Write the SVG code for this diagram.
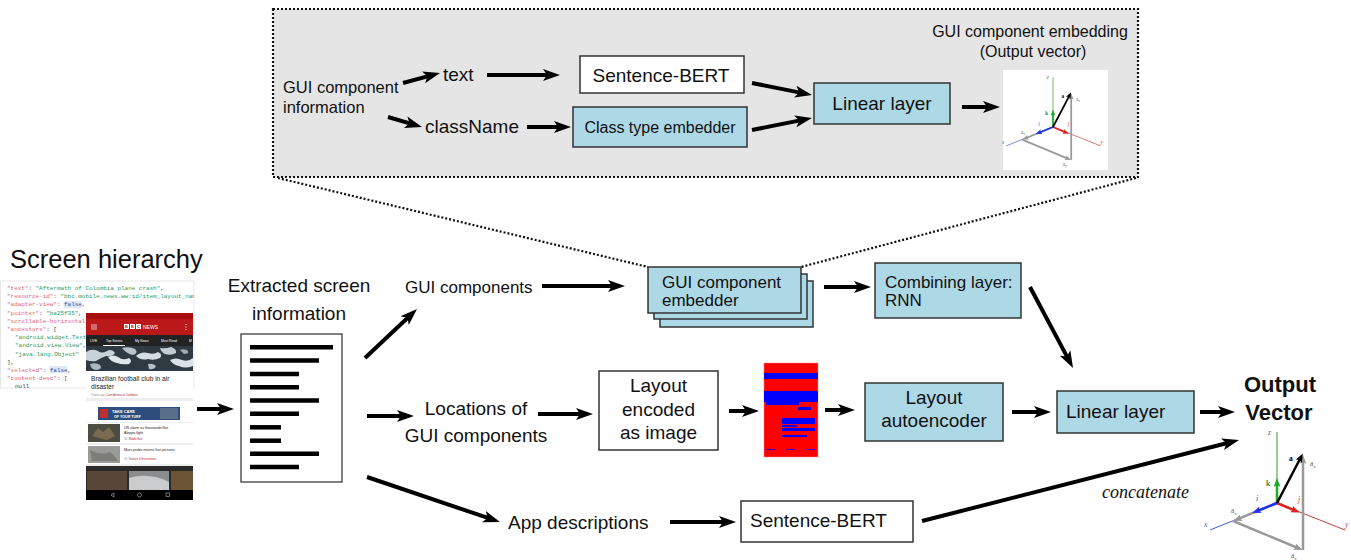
<svg xmlns="http://www.w3.org/2000/svg" xmlns:xlink="http://www.w3.org/1999/xlink" width="1351" height="560" viewBox="0 0 1351 560">
<style>
.t{font-family:"Liberation Sans",Arial,sans-serif;fill:#111}
.box{stroke:#333;stroke-width:1.5}
.blue{fill:#add8e6}
.white{fill:#fff}
.arr{stroke:#000;stroke-width:4;fill:none;marker-end:url(#ah)}
.dot{stroke:#111;stroke-width:2.2;stroke-dasharray:2 2;fill:none}
.code{font-family:"Liberation Mono","DejaVu Sans Mono",monospace;font-size:5.95px;fill:#444}
.k{fill:#e0607a}
.s{fill:#2a9a62}
.b{fill:#3050b0}
.ph{font-family:"Liberation Sans",Arial,sans-serif}
.vl{font-family:"Liberation Serif","Times New Roman",serif;font-size:7.5px;fill:#666}
</style>
<defs>
<marker id="ah" markerUnits="userSpaceOnUse" markerWidth="18" markerHeight="14" viewBox="0 0 18 14" refX="5" refY="7" orient="auto"><path d="M0,1 L17,7 L0,13 L4,7 z" fill="#000"/></marker>
<marker id="mg" markerUnits="userSpaceOnUse" markerWidth="9" markerHeight="7" viewBox="0 0 9 7" refX="5" refY="3.5" orient="auto"><path d="M0,0 L9,3.5 L0,7 L2,3.5 z" fill="#22aa22"/></marker>
<marker id="mr" markerUnits="userSpaceOnUse" markerWidth="9" markerHeight="7" viewBox="0 0 9 7" refX="5" refY="3.5" orient="auto"><path d="M0,0 L9,3.5 L0,7 L2,3.5 z" fill="#e02020"/></marker>
<marker id="mb" markerUnits="userSpaceOnUse" markerWidth="9" markerHeight="7" viewBox="0 0 9 7" refX="5" refY="3.5" orient="auto"><path d="M0,0 L9,3.5 L0,7 L2,3.5 z" fill="#2030f0"/></marker>
<marker id="my" markerUnits="userSpaceOnUse" markerWidth="9" markerHeight="7" viewBox="0 0 9 7" refX="5" refY="3.5" orient="auto"><path d="M0,0 L9,3.5 L0,7 L2,3.5 z" fill="#999"/></marker>
<marker id="mk" markerUnits="userSpaceOnUse" markerWidth="9" markerHeight="7" viewBox="0 0 9 7" refX="5" refY="3.5" orient="auto"><path d="M0,0 L9,3.5 L0,7 L2,3.5 z" fill="#000"/></marker>
<clipPath id="jsonclip"><rect x="0" y="281" width="194" height="107"/></clipPath>
<clipPath id="heroclip"><rect x="86" y="346" width="107" height="25"/></clipPath>
<g id="axes">
  <line x1="0" y1="0" x2="0" y2="-71" stroke="#33a033" stroke-width="1"/>
  <line x1="0" y1="0" x2="68" y2="27" stroke="#c04040" stroke-width="1"/>
  <line x1="0" y1="0" x2="-67" y2="27" stroke="#4a5ad0" stroke-width="1"/>
  <line x1="0" y1="0" x2="-40" y2="16.4" stroke="#999" stroke-width="2.5" marker-end="url(#my)"/>
  <line x1="-44" y1="18" x2="22" y2="45.5" stroke="#999" stroke-width="2.5" marker-end="url(#my)"/>
  <line x1="26" y1="47" x2="26" y2="-44" stroke="#999" stroke-width="2.5" marker-end="url(#my)"/>
  <line x1="0" y1="0" x2="0" y2="-21" stroke="#22aa22" stroke-width="2.5" marker-end="url(#mg)"/>
  <line x1="0" y1="0" x2="19" y2="8" stroke="#e02020" stroke-width="2.5" marker-end="url(#mr)"/>
  <line x1="0" y1="0" x2="-21" y2="8.5" stroke="#2030f0" stroke-width="2.5" marker-end="url(#mb)"/>
  <line x1="0" y1="0" x2="24" y2="-46" stroke="#000" stroke-width="2.5" marker-end="url(#mk)"/>
  <text class="vl" x="-9" y="-68" font-style="italic">z</text>
  <text class="vl" x="-11" y="-17" font-weight="bold" style="fill:#338833">k</text>
  <text class="vl" x="12" y="-42" font-weight="bold" style="fill:#000">a</text>
  <text class="vl" x="33" y="-37">a<tspan font-size="5" dy="1.5">z</tspan></text>
  <text class="vl" x="-21" y="-2" font-style="italic" style="fill:#2030f0">i</text>
  <text class="vl" x="21" y="-1" font-style="italic" style="fill:#e02020">j</text>
  <text class="vl" x="-46" y="10">a<tspan font-size="5" dy="1.5">x</tspan></text>
  <text class="vl" x="14" y="55">a<tspan font-size="5" dy="1.5">y</tspan></text>
  <text class="vl" x="-73" y="24" font-style="italic" style="fill:#4a5ad0">x</text>
  <text class="vl" x="68" y="24" font-style="italic" style="fill:#c04040">y</text>
</g>
</defs>

<rect x="0" y="0" width="1351" height="560" fill="#fff"/>

<!-- top detail panel -->
<g id="detail-panel">
  <rect x="273" y="9" width="865" height="168" fill="#e5e5e5"/>
  <rect x="273" y="9" width="865" height="168" class="dot" stroke-width="2.5"/>
  <text class="t" x="283" y="93" font-size="16.5">GUI component</text>
  <text class="t" x="283" y="113" font-size="16.5">information</text>
  <text class="t" x="443" y="81" font-size="19">text</text>
  <text class="t" x="425" y="133" font-size="19">className</text>
</g>
<g id="sbert-top">
  <rect x="580" y="56" width="164" height="37" class="box white"/>
  <text class="t" x="661" y="82" font-size="19" text-anchor="middle">Sentence-BERT</text>
</g>
<g id="class-type-embedder">
  <rect x="573" y="107" width="174" height="40" class="box blue"/>
  <text class="t" x="660" y="133" font-size="16" text-anchor="middle">Class type embedder</text>
</g>
<g id="linear-top">
  <rect x="814" y="83" width="136" height="41" class="box blue"/>
  <text class="t" x="882" y="110" font-size="19" text-anchor="middle">Linear layer</text>
</g>
<g id="embedding-output">
  <text class="t" x="1030" y="37" font-size="16" text-anchor="middle">GUI component embedding</text>
  <text class="t" x="1033" y="57" font-size="16" text-anchor="middle">(Output vector)</text>
  <rect x="1003" y="70" width="105" height="100" fill="#fff"/>
  <use xlink:href="#axes" href="#axes" transform="translate(1053,127) scale(0.7)"/>
</g>

<!-- screen hierarchy -->
<g id="screen-hierarchy">
  <text class="t" x="10" y="268" font-size="25.5">Screen hierarchy</text>
  <rect x="0.5" y="281" width="193.5" height="107" fill="#fff" stroke="#e2e2e2" stroke-width="0.8"/>
  <rect x="63.5" y="301" width="18" height="7" fill="#dde9f6"/>
  <rect x="49.5" y="366" width="18" height="7" fill="#dde9f6"/>
  <g clip-path="url(#jsonclip)" class="code">
    <text x="7" y="290"><tspan class="k">"text"</tspan>: <tspan class="s">"Aftermath of Colombia plane crash"</tspan>,</text>
    <text x="7" y="298"><tspan class="k">"resource-id"</tspan>: <tspan class="s">"bbc.mobile.news.ww:id/item_layout_name"</tspan></text>
    <text x="7" y="306"><tspan class="k">"adapter-view"</tspan>: <tspan class="b">false</tspan>,</text>
    <text x="7" y="314.5"><tspan class="k">"pointer"</tspan>: <tspan class="s">"ba25f35"</tspan>,</text>
    <text x="7" y="322.5"><tspan class="k">"scrollable-horizontal"</tspan>: <tspan class="b">false</tspan>,</text>
    <text x="7" y="330.5"><tspan class="k">"ancestors"</tspan>: [</text>
    <text x="15" y="339"><tspan class="s">"android.widget.TextView"</tspan>,</text>
    <text x="15" y="347"><tspan class="s">"android.view.View"</tspan>,</text>
    <text x="15" y="355.5"><tspan class="s">"java.lang.Object"</tspan></text>
    <text x="7" y="363.5">],</text>
    <text x="7" y="371.5"><tspan class="k">"selected"</tspan>: <tspan class="b">false</tspan>,</text>
    <text x="7" y="379.5"><tspan class="k">"content-desc"</tspan>: [</text>
    <text x="15" y="387.5">null</text>
  </g>
  <!-- phone screenshot -->
  <g id="phone">
    <rect x="86" y="313" width="107" height="187" fill="#eeeeee"/>
    <rect x="86" y="313" width="107" height="6" fill="#a80d0d"/>
    <rect x="86" y="319" width="107" height="16" fill="#bb1919"/>
    <path d="M91,325 h6 M91,327 h6 M91,329 h6" stroke="#fff" stroke-width="0.7"/>
    <circle cx="186" cy="324.5" r="0.6" fill="#fff"/><circle cx="186" cy="327" r="0.6" fill="#fff"/><circle cx="186" cy="329.5" r="0.6" fill="#fff"/>
    <rect x="124" y="324" width="5" height="5" fill="#fff"/><rect x="130" y="324" width="5" height="5" fill="#fff"/><rect x="136" y="324" width="5" height="5" fill="#fff"/>
    <text class="ph" x="125" y="328.3" font-size="4" fill="#bb1919" font-weight="bold">B</text>
    <text class="ph" x="131" y="328.3" font-size="4" fill="#bb1919" font-weight="bold">B</text>
    <text class="ph" x="137" y="328.3" font-size="4" fill="#bb1919" font-weight="bold">C</text>
    <text class="ph" x="143" y="328.5" font-size="5" fill="#fff">NEWS</text>
    <rect x="86" y="335" width="107" height="11" fill="#222"/>
    <text class="ph" x="90" y="342" font-size="3.3" fill="#fff">LIVE</text>
    <text class="ph" x="106" y="342" font-size="3.3" fill="#fff">Top Stories</text>
    <text class="ph" x="135" y="342" font-size="3.3" fill="#fff">My News</text>
    <text class="ph" x="161" y="342" font-size="3.3" fill="#fff">Most Read</text>
    <text class="ph" x="189" y="342" font-size="3.3" fill="#fff">M</text>
    <rect x="103" y="345" width="22" height="1" fill="#fff"/>
    <g clip-path="url(#heroclip)">
      <rect x="86" y="346" width="107" height="25" fill="#2f3a42"/>
      <path d="M86,352 q6,-4 12,-1 q4,3 9,0 q5,-3 8,2 q-3,4 -9,3 q-6,2 -10,5 q-5,1 -10,-1 z" fill="#c8d3d9"/>
      <path d="M108,357 q6,-3 10,0 q5,4 11,1 q4,3 0,6 q-7,1 -12,-1 q-6,-1 -9,-6 z" fill="#dfe6ea"/>
      <path d="M122,348 q7,-2 13,1 q4,4 -2,6 q-6,-1 -11,-7 z" fill="#b9c6cd"/>
      <path d="M136,356 q5,-5 12,-3 q6,2 10,-1 q5,2 2,6 q-6,3 -12,1 q-7,2 -12,-3 z" fill="#d4dde2"/>
      <path d="M160,348 q6,1 11,-1 q6,2 5,6 q-5,3 -11,1 q-4,-2 -5,-6 z" fill="#c2ced4"/>
      <path d="M170,360 q6,-3 12,0 q6,2 11,-2 l0,8 q-8,3 -14,0 q-6,-1 -9,-6 z" fill="#dae2e6"/>
      <path d="M90,364 q6,-2 10,1 q3,4 -3,5 q-6,0 -7,-6 z" fill="#aab7bf"/>
      <path d="M148,364 q5,-1 8,2 q-2,4 -7,3 z" fill="#b5c1c8"/>
      <path d="M180,350 q5,-2 8,1 q1,3 -4,3 z" fill="#9eadb6"/>
    </g>
    <rect x="86" y="371" width="107" height="27" fill="#fff"/>
    <text class="ph" x="91" y="380.5" font-size="6.6" fill="#222">Brazilian football club in air</text>
    <text class="ph" x="91" y="388.5" font-size="6.6" fill="#222">disaster</text>
    <text class="ph" x="91" y="396" font-size="2.6" fill="#888">3 hours ago  |  <tspan fill="#bb1919">Latin America &amp; Caribbean</tspan></text>
    <rect x="86" y="401" width="107" height="21" fill="#fff"/>
    <rect x="98" y="407" width="82" height="13" fill="#2d4d7c"/>
    <rect x="100" y="409" width="8" height="9" fill="#c03030"/>
    <rect x="160" y="408" width="18" height="11" fill="#5a6f8a"/>
    <text class="ph" x="112" y="412.5" font-size="4" fill="#fff" font-weight="bold">TAKE CARE</text>
    <text class="ph" x="114" y="417.5" font-size="3.6" fill="#fff" font-weight="bold">OF YOUR TURF</text>
    <rect x="86" y="423" width="107" height="20" fill="#fff"/>
    <rect x="88" y="424" width="32" height="18" fill="#4c4c42"/>
    <path d="M92,436 l6,-8 l5,4 l6,-5 l6,9 l-8,4 z" fill="#7a6a50"/>
    <text class="ph" x="124" y="429" font-size="3.6" fill="#222">UN alarm as thousands flee</text>
    <text class="ph" x="124" y="434" font-size="3.6" fill="#222">Aleppo fight</text>
    <text class="ph" x="124" y="440" font-size="2.6" fill="#888">3h  |  <tspan fill="#bb1919">Middle East</tspan></text>
    <rect x="86" y="445" width="107" height="19" fill="#fff"/>
    <rect x="88" y="446" width="32" height="17" fill="#9a9a98"/>
    <path d="M90,450 q10,6 20,2 q6,5 8,9 l-26,0 z" fill="#7d7d7a"/>
    <text class="ph" x="124" y="451" font-size="3.6" fill="#222">Mars probe returns first pictures</text>
    <text class="ph" x="124" y="460" font-size="2.6" fill="#888">3h  |  <tspan fill="#bb1919">Science &amp; Environment</tspan></text>
    <rect x="86" y="466" width="107" height="24" fill="#2a2a2a"/>
    <rect x="87" y="471" width="40" height="19" fill="#5a4636"/>
    <rect x="129" y="471" width="40" height="19" fill="#8a8c8e"/>
    <path d="M129,478 q20,-6 40,4 l0,8 l-40,0 z" fill="#c9cbcc"/>
    <rect x="171" y="471" width="22" height="19" fill="#6a5434"/>
    <rect x="86" y="490" width="107" height="10" fill="#000"/>
    <path d="M111,495 l3,-2 v4 z" fill="none" stroke="#bbb" stroke-width="0.6"/>
    <circle cx="139.5" cy="495" r="2" fill="none" stroke="#bbb" stroke-width="0.6"/>
    <rect x="166" y="493" width="3.6" height="3.6" fill="none" stroke="#bbb" stroke-width="0.6"/>
  </g>
</g>

<!-- extracted screen information -->
<g id="extracted-info">
  <text class="t" x="299" y="292" font-size="19" text-anchor="middle">Extracted screen</text>
  <text class="t" x="299" y="320" font-size="19" text-anchor="middle">information</text>
  <rect x="241" y="334" width="101" height="148" fill="#fff" stroke="#555" stroke-width="1.5"/>
  <g stroke="#000" stroke-width="4.5">
    <line x1="250" y1="347.3" x2="333" y2="347.3"/>
    <line x1="250" y1="360.5" x2="319" y2="360.5"/>
    <line x1="250" y1="374" x2="299" y2="374"/>
    <line x1="250" y1="387.3" x2="299" y2="387.3"/>
    <line x1="250" y1="400.5" x2="319" y2="400.5"/>
    <line x1="250" y1="413.7" x2="299" y2="413.7"/>
    <line x1="250" y1="427.3" x2="281" y2="427.3"/>
    <line x1="250" y1="440.7" x2="281" y2="440.7"/>
    <line x1="250" y1="453.7" x2="319" y2="453.7"/>
    <line x1="250" y1="467" x2="299" y2="467"/>
  </g>
</g>

<g id="gui-components-label"><text class="t" x="405" y="293" font-size="17">GUI components</text></g>
<g id="locations-label">
  <text class="t" x="476" y="415" font-size="19" text-anchor="middle">Locations of</text>
  <text class="t" x="476" y="442" font-size="19" text-anchor="middle">GUI components</text>
</g>
<g id="app-desc-label"><text class="t" x="508" y="529" font-size="19">App descriptions</text></g>

<g id="gui-embedder-stack">
  <rect x="660" y="281" width="153" height="46" class="box blue"/>
  <rect x="654" y="274" width="153" height="45" class="box blue"/>
  <rect x="648" y="267" width="153" height="46" class="box blue"/>
  <text class="t" x="662" y="288" font-size="17">GUI component</text>
  <text class="t" x="662" y="306" font-size="17">embedder</text>
</g>
<g id="combining-layer">
  <rect x="875" y="263" width="146" height="55" class="box blue"/>
  <text class="t" x="885" y="288" font-size="17">Combining layer:</text>
  <text class="t" x="885" y="306" font-size="17">RNN</text>
</g>
<g id="layout-encoded">
  <rect x="599" y="371" width="119" height="79" class="box white"/>
  <text class="t" x="658.5" y="392" font-size="19" text-anchor="middle">Layout</text>
  <text class="t" x="658.5" y="416" font-size="19" text-anchor="middle">encoded</text>
  <text class="t" x="658.5" y="439" font-size="19" text-anchor="middle">as image</text>
</g>
<g id="layout-image">
  <rect x="764" y="363" width="54" height="94" fill="#ff0000" stroke="#ff9090" stroke-width="0.5"/>
  <g fill="#0000ff">
    <rect x="764" y="373" width="54" height="6"/>
    <rect x="764" y="391" width="54" height="11"/>
    <rect x="766" y="402" width="33" height="3"/>
    <rect x="798" y="407" width="13" height="3"/>
    <rect x="782" y="418" width="33" height="6"/>
    <rect x="782" y="425" width="15" height="2"/>
    <rect x="782" y="428" width="33" height="3"/>
    <rect x="782" y="435" width="25" height="2"/>
    <rect x="766" y="449" width="9" height="0.8"/>
    <rect x="786" y="449" width="9" height="0.8"/>
    <rect x="806" y="449" width="9" height="0.8"/>
  </g>
</g>
<g id="layout-autoencoder">
  <rect x="865" y="383" width="138" height="58" class="box blue"/>
  <text class="t" x="934" y="404" font-size="19" text-anchor="middle">Layout</text>
  <text class="t" x="934" y="427" font-size="19" text-anchor="middle">autoencoder</text>
</g>
<g id="linear-bottom">
  <rect x="1057" y="391" width="137" height="42" class="box blue"/>
  <text class="t" x="1066" y="418" font-size="19">Linear layer</text>
</g>
<g id="sbert-bottom">
  <rect x="741" y="501" width="172" height="41" class="box white"/>
  <text class="t" x="750" y="527" font-size="19">Sentence-BERT</text>
</g>
<g id="output-vector">
  <text class="t" x="1280" y="392" font-size="22" font-weight="bold" text-anchor="middle">Output</text>
  <text class="t" x="1279" y="420" font-size="22" font-weight="bold" text-anchor="middle">Vector</text>
  <use xlink:href="#axes" href="#axes" transform="translate(1277,503)"/>
</g>
<g id="concatenate-label">
  <text x="1102" y="498" font-family="'Liberation Serif','Times New Roman',serif" font-style="italic" font-size="18" fill="#111">concatenate</text>
</g>

<!-- connectors -->
<g id="connectors">
  <line class="dot" x1="278" y1="178" x2="648" y2="267"/>
  <line class="dot" x1="1136" y1="178" x2="801" y2="267"/>
  <line class="arr" x1="403" y1="83" x2="428.4" y2="76.1"/>
  <line class="arr" x1="487" y1="75" x2="548" y2="75"/>
  <line class="arr" x1="388" y1="117" x2="410.5" y2="123.6"/>
  <line class="arr" x1="527" y1="127" x2="559" y2="127"/>
  <line class="arr" x1="752" y1="83" x2="800.2" y2="92.6"/>
  <line class="arr" x1="752" y1="130" x2="800.2" y2="120.4"/>
  <line class="arr" x1="962" y1="107" x2="988" y2="107"/>
  <line class="arr" x1="197" y1="409" x2="222" y2="409"/>
  <line class="arr" x1="365" y1="358" x2="408.3" y2="317.2"/>
  <line class="arr" x1="367" y1="416" x2="402" y2="416"/>
  <line class="arr" x1="367" y1="477" x2="488.6" y2="518.2"/>
  <line class="arr" x1="542" y1="286" x2="613" y2="286"/>
  <line class="arr" x1="824" y1="287" x2="859" y2="287"/>
  <line class="arr" x1="1030" y1="287" x2="1067.4" y2="357.4"/>
  <line class="arr" x1="538" y1="414" x2="581" y2="414"/>
  <line class="arr" x1="729" y1="411" x2="747" y2="411"/>
  <line class="arr" x1="825" y1="410" x2="843" y2="410"/>
  <line class="arr" x1="1012" y1="412" x2="1039" y2="412"/>
  <line class="arr" x1="1200" y1="412" x2="1223" y2="412"/>
  <line class="arr" x1="670" y1="522" x2="724" y2="522"/>
  <line class="arr" x1="922" y1="521" x2="1227.4" y2="443"/>
</g>
</svg>
